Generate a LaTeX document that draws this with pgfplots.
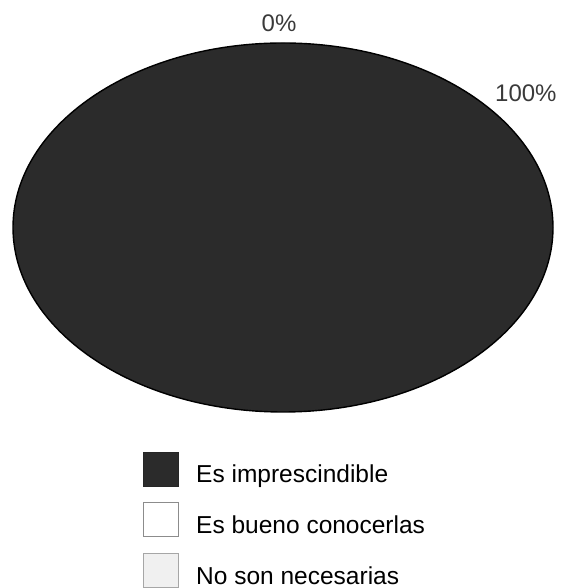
\documentclass[border=0pt]{standalone}
\usepackage{pgfplots}
\pgfplotsset{compat=1.18}
\usepackage{fontspec}
\setmainfont{Liberation Sans}

\definecolor{slicedark}{HTML}{2B2B2B}
\definecolor{slicelight}{HTML}{F0F0F0}
\definecolor{labelgray}{HTML}{3A3A3A}

% share of answers (percent), clockwise from the top
\def\shareA{100} % Es imprescindible
\def\shareB{0}   % Es bueno conocerlas
\def\shareC{0}   % No son necesarias

\begin{document}
\begin{tikzpicture}
\begin{axis}[
  x=1pt, y=1pt,
  xmin=0, xmax=561, ymin=0, ymax=588,
  hide axis, clip=false,
]
  % picture frame
  \path (axis cs:0,0) rectangle (axis cs:561,588);

  % pie, drawn as an ellipse; the first slice takes the whole of it
  \filldraw[fill=slicedark, draw=black, line width=1.4pt]
    (axis cs:283,360.5) ellipse [x radius=270pt, y radius=184.5pt];

  % slice labels
  \node[anchor=base, text=labelgray, font=\fontsize{24}{28}\selectfont]
    at (axis cs:279,556) {0\%};
  \node[anchor=base west, text=labelgray, font=\fontsize{24}{28}\selectfont, inner sep=0pt]
    at (axis cs:495,486) {100\%};

  % legend
  \filldraw[fill=slicedark, draw=black!85, line width=1pt]
    (axis cs:143.5,101.5) rectangle (axis cs:178.5,135.5);
  \filldraw[fill=white, draw=black!45, line width=1pt]
    (axis cs:143.5,51.5) rectangle (axis cs:178.5,85.5);
  \filldraw[fill=slicelight, draw=black!35, line width=1pt]
    (axis cs:143.5,0.5) rectangle (axis cs:178.5,34.5);

  \node[anchor=base west, inner sep=0pt, font=\fontsize{24.5}{28}\selectfont]
    at (axis cs:196,105) {Es imprescindible};
  \node[anchor=base west, inner sep=0pt, font=\fontsize{24.5}{28}\selectfont]
    at (axis cs:196,54) {Es bueno conocerlas};
  \node[anchor=base west, inner sep=0pt, font=\fontsize{24.5}{28}\selectfont]
    at (axis cs:196,3) {No son necesarias};
\end{axis}
\end{tikzpicture}
\end{document}
